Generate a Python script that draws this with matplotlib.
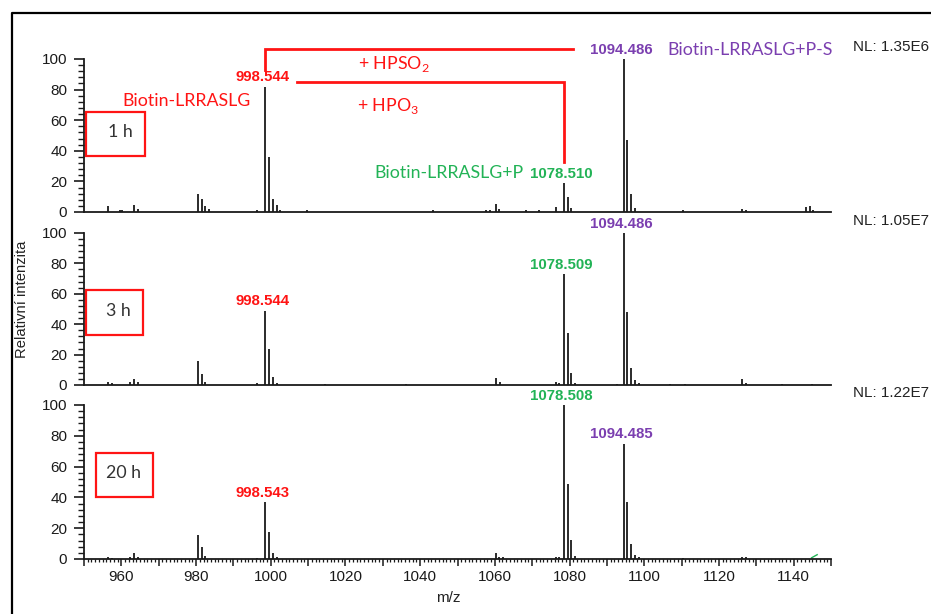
import matplotlib
matplotlib.use("Agg")
import matplotlib.pyplot as plt
from matplotlib.lines import Line2D
from matplotlib.patches import Rectangle
from matplotlib.ticker import MultipleLocator, FuncFormatter

W, H = 931, 614

# peak lists: m/z and relative intensity (%) for each time point
mz_1h = [956.5, 959.6, 960.3, 963.5, 964.5, 980.53, 981.53, 982.53, 983.5,
         996.4, 998.544, 999.547, 1000.55, 1001.55, 1002.55, 1009.6, 1043.5,
         1057.7, 1058.6, 1060.2, 1061.2, 1068.4, 1071.8, 1076.4, 1078.510,
         1079.51, 1080.51, 1094.486, 1095.49, 1096.49, 1097.49, 1110.3,
         1126.3, 1127.3, 1143.3, 1144.3, 1145.3]
int_1h = [4, 1.5, 1.5, 4.5, 2, 11.5, 8.5, 4, 2,
          1, 82, 36, 8.5, 4.5, 1.5, 1, 1,
          1.5, 1.5, 5.5, 2, 1, 1, 3.5, 19,
          10, 2.5, 100, 47, 12, 2.5, 1,
          2, 1.5, 3, 4, 1.5]

mz_3h = [956.4, 957.5, 962.4, 963.4, 964.4, 980.53, 981.53, 982.53, 996.4,
         998.544, 999.547, 1000.55, 1001.55, 1014.5, 1036.3, 1060.3, 1061.3,
         1076.4, 1077.3, 1078.509, 1079.51, 1080.51, 1081.51, 1092.7,
         1094.486, 1095.49, 1096.49, 1097.49, 1098.5, 1107.0, 1111.0,
         1126.3, 1127.3, 1137.0, 1145.0]
int_3h = [2, 1, 2, 4, 2, 15.5, 7.5, 2, 1,
          49, 23.5, 5.5, 1, 0.8, 0.6, 4.5, 2,
          2, 1, 73, 34, 8, 1.5, 0.6,
          100, 48, 11.5, 3, 1, 0.5, 0.6,
          4, 1.5, 0.5, 0.5]

mz_20h = [956.4, 957.5, 962.4, 963.4, 964.4, 980.53, 981.53, 982.53, 996.4,
          998.543, 999.546, 1000.55, 1001.55, 1060.2, 1061.2, 1062.2, 1076.4,
          1077.3, 1078.508, 1079.51, 1080.51, 1081.51, 1094.485, 1095.49,
          1096.49, 1097.49, 1098.5, 1110.3, 1126.3, 1127.3]
int_20h = [1.5, 0.6, 1, 4, 1.5, 15.3, 7.5, 2, 0.6,
           37, 17.5, 4, 1, 4, 1.5, 1, 1.5,
           1, 100, 49, 12.5, 2, 75, 37,
           10, 2.5, 1, 0.6, 1.5, 1]

# labelled peaks per panel
RED, GREEN, PURPLE = "#ff1414", "#22b356", "#7b3fb0"
labels_1h = [(998.544, RED), (1078.510, GREEN), (1094.486, PURPLE)]
labels_3h = [(998.544, RED), (1078.509, GREEN), (1094.486, PURPLE)]
labels_20h = [(998.543, RED), (1078.508, GREEN), (1094.485, PURPLE)]

times = ["1 h", "3 h", "20 h"]
nl_values = ["NL: 1.35E6", "NL: 1.05E7", "NL: 1.22E7"]

TICK_FONT = "Liberation Sans"
NOTE_FONT = "Lato"


def fx(x):
    return x / W


def fy(y):
    return 1 - y / H


fig = plt.figure(figsize=(W / 100, H / 100), dpi=100)

# panel rectangles in pixels: (y of zero line, y of 100 %)
panel_px = [(212, 59), (385, 233), (559, 405)]
series = [(mz_1h, int_1h, labels_1h), (mz_3h, int_3h, labels_3h),
          (mz_20h, int_20h, labels_20h)]
axes = []
for i, ((y0, y100), (mz, inten, labs)) in enumerate(zip(panel_px, series)):
    ax = fig.add_axes([fx(84), fy(y0), fx(831) - fx(84), (y0 - y100) / H])
    ax.vlines(mz, 0, inten, color="#1a1a1a", lw=1.3)
    ax.set_xlim(950, 1150)
    ax.set_ylim(0, 100)
    for s in ("top", "right"):
        ax.spines[s].set_visible(False)
    for s in ("left", "bottom"):
        ax.spines[s].set_linewidth(1.3)
        ax.spines[s].set_color("#1a1a1a")
    ax.yaxis.set_major_locator(MultipleLocator(20))
    ax.yaxis.set_minor_locator(MultipleLocator(4))
    ax.tick_params(axis="y", which="major", length=7, width=1.2,
                   labelsize=11, pad=5, colors="#1a1a1a")
    ax.tick_params(axis="y", which="minor", length=4.5, width=1.0,
                   colors="#1a1a1a")
    for t in ax.get_yticklabels():
        t.set_fontfamily(TICK_FONT)
    if i < 2:
        ax.tick_params(axis="x", which="both", bottom=False,
                       labelbottom=False)
    else:
        ax.xaxis.set_major_locator(MultipleLocator(10))
        ax.xaxis.set_minor_locator(MultipleLocator(1))
        ax.xaxis.set_major_formatter(FuncFormatter(
            lambda v, p: f"{v:.0f}" if round(v) % 20 == 0 else ""))
        ax.tick_params(axis="x", which="major", length=5, width=1.1,
                       labelsize=11, pad=3, colors="#1a1a1a")
        ax.tick_params(axis="x", which="minor", length=2.5, width=0.9,
                       colors="#1a1a1a")
        for t in ax.get_xticklabels():
            t.set_fontfamily(TICK_FONT)
    # peak labels
    lookup = dict(zip(mz, inten))
    for m, c in labs:
        ax.annotate(f"{m:.3f}", (m, lookup[m]), xytext=(-2, 1.5),
                    textcoords="offset points", ha="center", va="bottom",
                    color=c, fontsize=10.8, fontweight="bold",
                    fontfamily=TICK_FONT, annotation_clip=False)
    axes.append(ax)

ax1, ax2, ax3 = axes

# red connectors between the biotin peak and its modified forms
ax1.plot([998.544, 998.544, 1081.0], [93, 106.5, 106.5], color=RED,
         lw=2, clip_on=False, solid_joinstyle="miter")
ax1.plot([1007.0, 1078.510, 1078.510], [85, 85, 33], color=RED,
         lw=2, clip_on=False, solid_joinstyle="miter")

fig.text(fx(394), fy(64), r"+ HPSO$_\mathregular{2}$", color=RED,
         fontsize=12.8, fontfamily=NOTE_FONT, ha="center", va="center")
fig.text(fx(388), fy(106), r"+ HPO$_\mathregular{3}$", color=RED,
         fontsize=12.8, fontfamily=NOTE_FONT, ha="center", va="center")
fig.text(fx(187), fy(101), "Biotin-LRRASLG", color=RED, fontsize=12.8,
         fontfamily=NOTE_FONT, ha="center", va="center")
fig.text(fx(750), fy(50), "Biotin-LRRASLG+P-S", color=PURPLE, fontsize=12.8,
         fontfamily=NOTE_FONT, ha="center", va="center")
fig.text(fx(523), fy(173), "Biotin-LRRASLG+P", color=GREEN, fontsize=12.8,
         fontfamily=NOTE_FONT, ha="right", va="center")

# time point boxes
boxes = [(86, 112, 59, 44), (86, 290, 57, 45), (96, 453, 57, 44)]
for (bx, by, bw, bh), t in zip(boxes, times):
    fig.add_artist(Rectangle((fx(bx), fy(by + bh)), bw / W, bh / H,
                             transform=fig.transFigure, fill=False,
                             edgecolor=RED, lw=1.6))
    fig.text(fx(bx + bw - 12), fy(by + bh / 2 - 2), t, color="#333333",
             fontsize=12.8, fontfamily=NOTE_FONT, ha="right", va="center")

# normalisation levels
for (y0, y100), nl in zip(panel_px, nl_values):
    fig.text(fx(853), fy(y100 - 12), nl, fontsize=11, color="#222222",
             fontfamily=TICK_FONT, ha="left", va="center")

fig.text(fx(22), fy(299), "Relativní intenzita", rotation=90, fontsize=10.6,
         color="#222222", fontfamily=TICK_FONT, ha="center", va="center")
fig.text(fx(448), fy(598), "m/z", fontsize=11, color="#222222",
         fontfamily=TICK_FONT, ha="center", va="center")

# small green mark near the baseline of the last trace
ax3.plot([1144.8, 1146.3], [0.8, 2.8], color=GREEN, lw=1, clip_on=False)

# outer frame (left and top edges)
fig.add_artist(Line2D([fx(12), fx(12), fx(931)], [0, fy(13), fy(13)],
                      transform=fig.transFigure, color="black", lw=1.6))

fig.savefig("out.png", dpi=100)
